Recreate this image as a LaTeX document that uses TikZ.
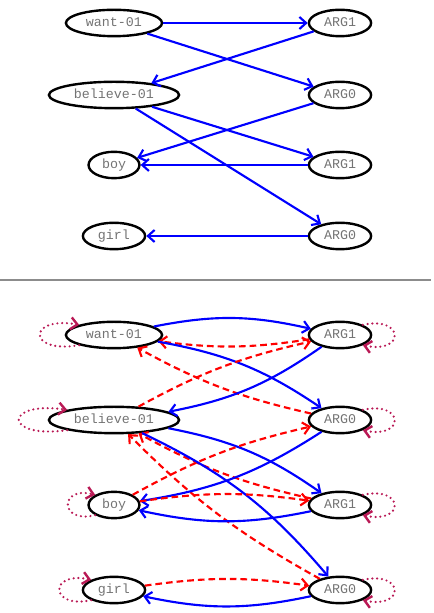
\documentclass[tikz,border=0pt]{standalone}
\usepackage{fontspec}
\setmonofont{Liberation Mono}
\usetikzlibrary{arrows.meta,shapes.geometric}
\definecolor{loopred}{RGB}{185,25,85}

\begin{document}
\begin{tikzpicture}[x=0.75pt, y=0.75pt, >={Straight Barb[length=5pt,width=9pt]},
	amr/.style={ellipse, draw, line width=1.8pt, inner xsep=4.5pt, inner ysep=2.5pt, text height=7pt, text depth=2pt, font=\ttfamily, text=black!55},
	fwd/.style={->, blue, line width=1.6pt},
	rev/.style={->, red, line width=1.6pt, dash pattern=on 5pt off 3pt},
	selfloop/.style={->, loopred, line width=1.8pt, line cap=round, dash pattern=on 0pt off 3.6pt}]
	\useasboundingbox (0,0) rectangle (433,613);
	\draw[black!45, line width=1.2pt] (0,333) -- (431,333);
	% same nodes in both panels: t = top, b = bottom
	\foreach \p/\ya/\yb/\yc/\yd in {t/590/518/448/377, b/278/193/108/23} {
		\node[amr] (want-\p) at (114,\ya) {want-01};
		\node[amr] (believe-\p) at (114,\yb) {believe-01};
		\node[amr] (boy-\p) at (114,\yc) {boy};
		\node[amr] (girl-\p) at (114,\yd) {girl};
		\node[amr] (arg1a-\p) at (340,\ya) {ARG1};
		\node[amr] (arg0a-\p) at (340,\yb) {ARG0};
		\node[amr] (arg1b-\p) at (340,\yc) {ARG1};
		\node[amr] (arg0b-\p) at (340,\yd) {ARG0};
	}
	\foreach \s/\t in {want/arg1a, want/arg0a, arg1a/believe, believe/arg1b, believe/arg0b, arg0a/boy, arg1b/boy, arg0b/girl} {
		\draw[fwd] (\s-t) -- (\t-t);
		\draw[fwd] (\s-b) to[bend left=12] (\t-b);
		\draw[rev] (\t-b) to[bend left=8] (\s-b);
	}
	% self loops
	\foreach \n/\d in {want/52, believe/64, boy/36, girl/42}
		\draw[selfloop] (\n-b.south west) .. controls +(-\d,-9) and +(-\d,9) .. (\n-b.north west);
	\foreach \n in {arg1a, arg0a, arg1b, arg0b}
		\draw[selfloop] (\n-b.north east) .. controls +(42,9) and +(42,-9) .. (\n-b.south east);
\end{tikzpicture}
\end{document}
